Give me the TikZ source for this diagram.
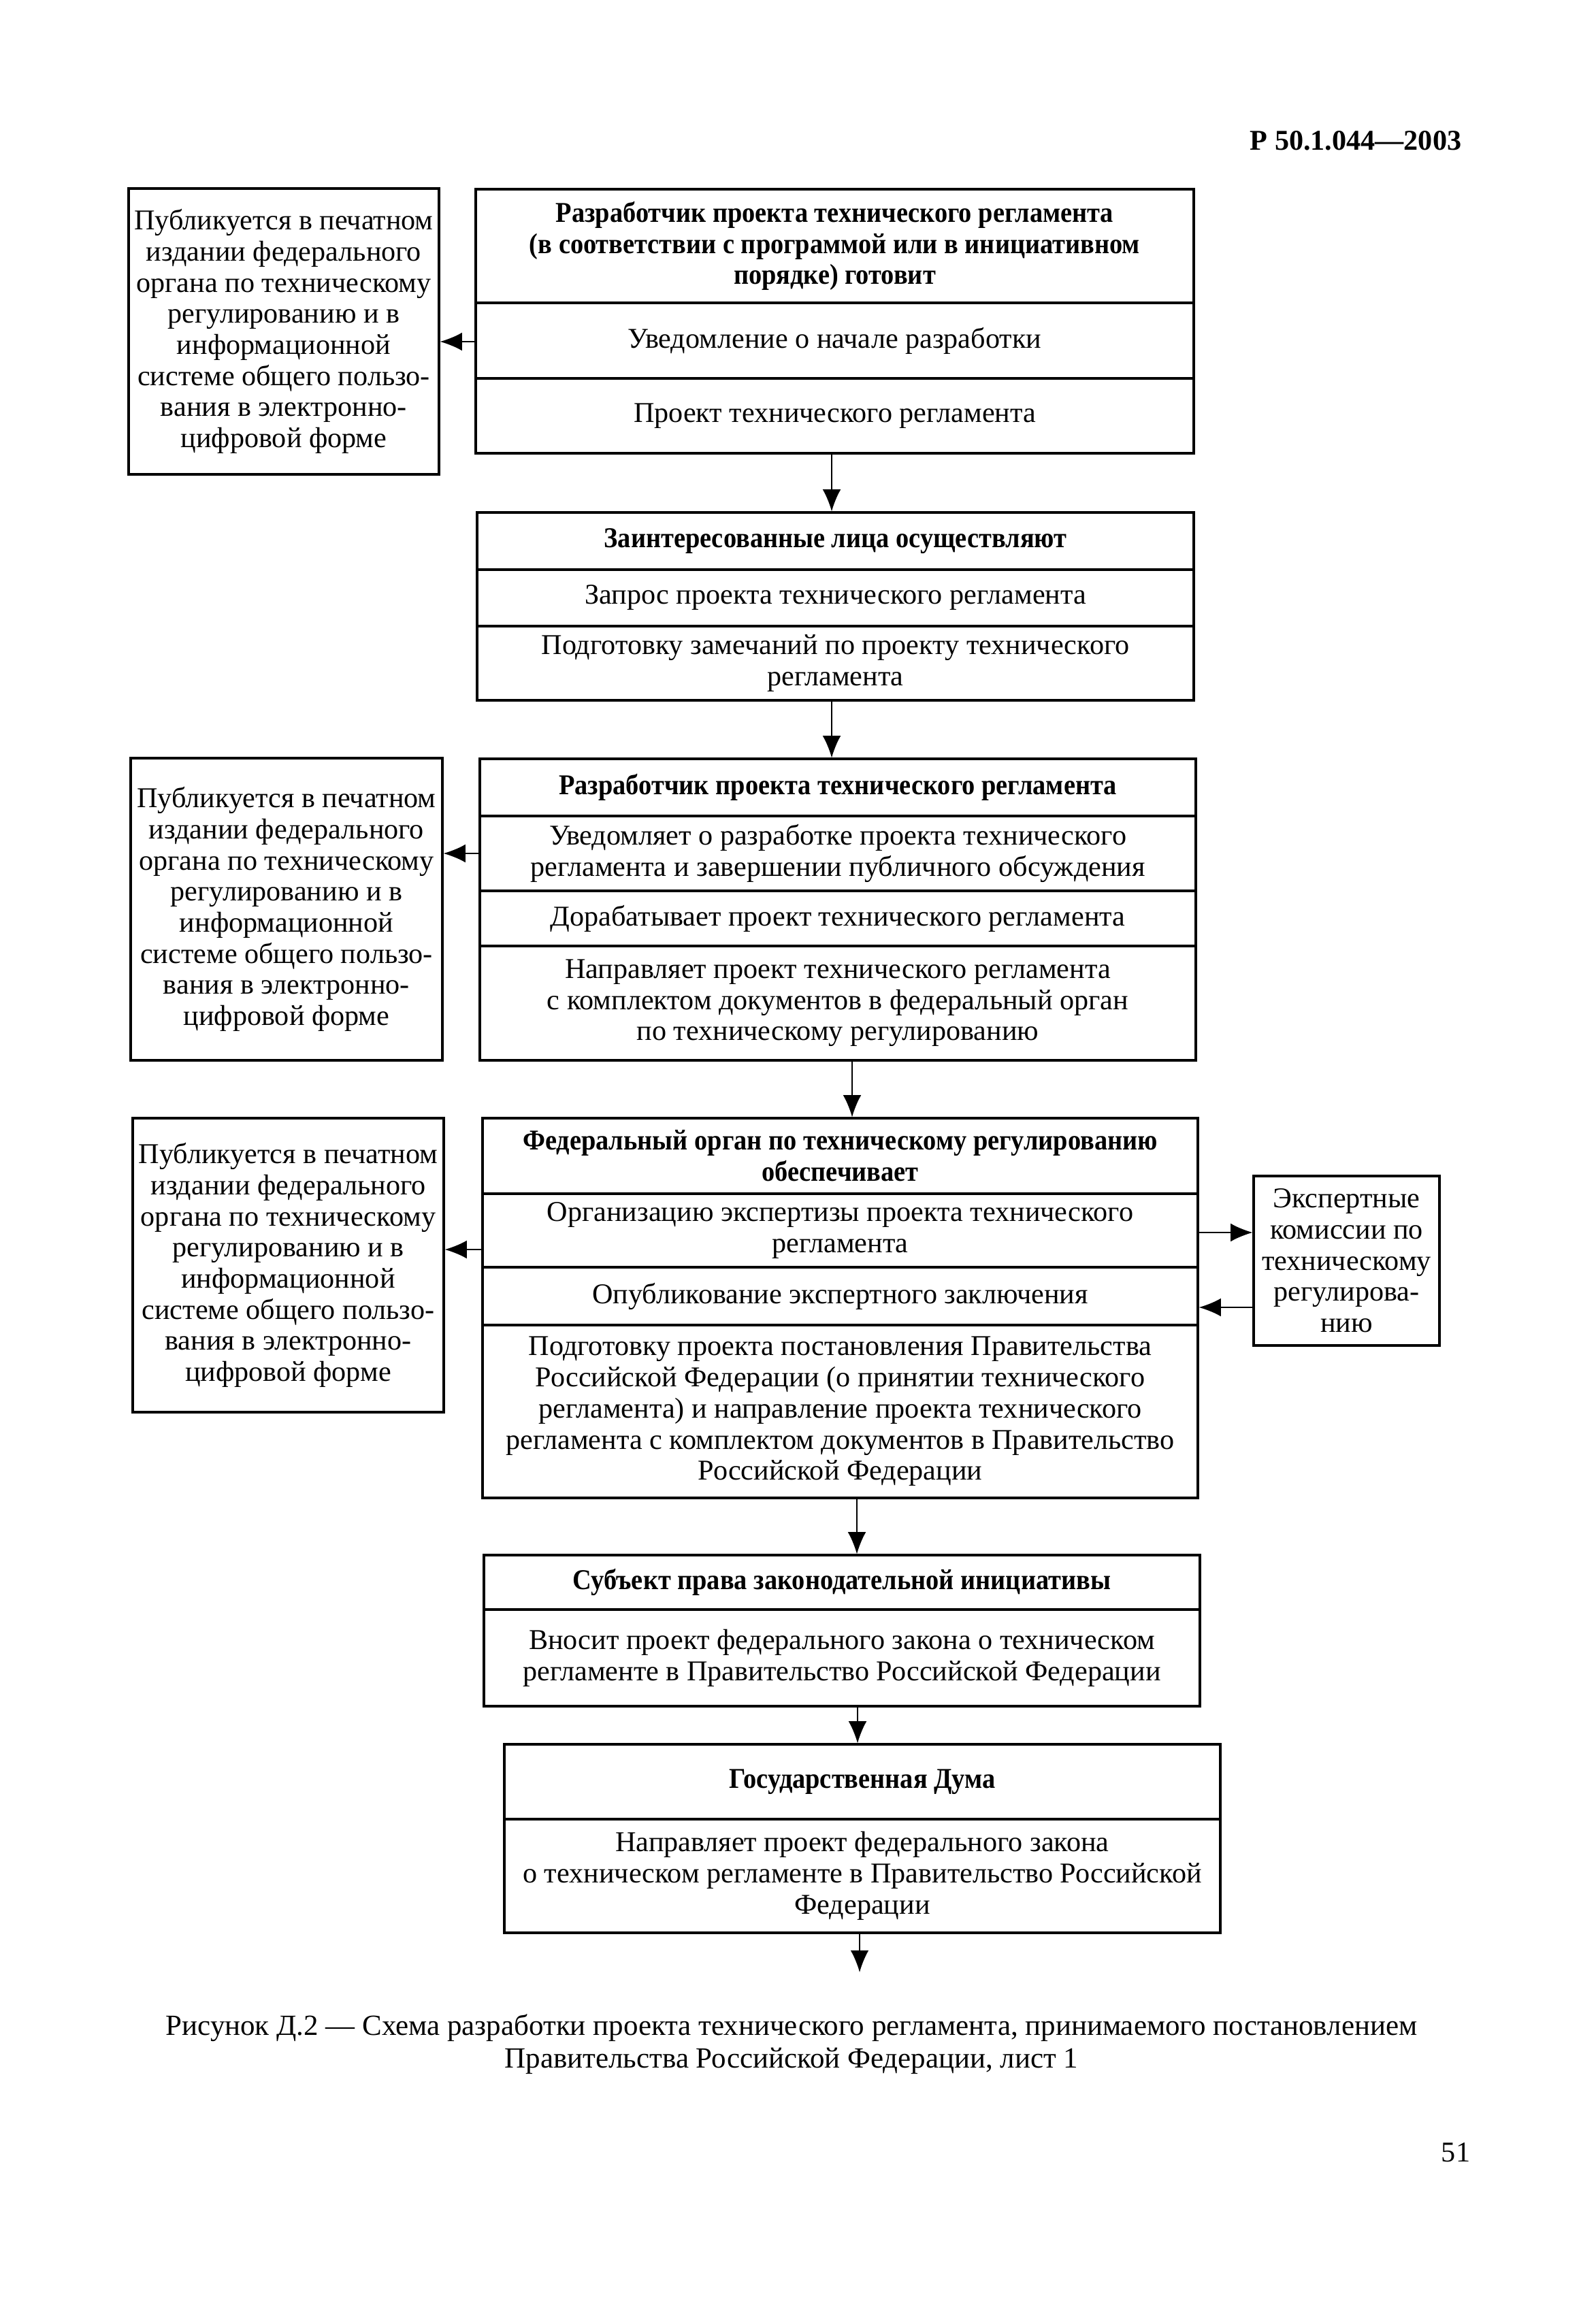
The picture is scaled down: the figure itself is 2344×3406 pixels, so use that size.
\documentclass[tikz,border=0pt]{standalone}
\usepackage{fontspec}
\setmainfont{Liberation Serif}
\newfontfamily\bcond{Liberation Serif}[FakeStretch=0.91]
\usetikzlibrary{arrows.meta}
\newcommand\fs{\fontsize{10.8}{11.7}\selectfont}
\newcommand\cellbox[7][]{%
  \pgfmathsetlengthmacro\cw{(#5-#3)*0.09mm}%
  \pgfmathsetlengthmacro\ch{(#6-#4)*0.09mm}%
  \node[cell, #1, minimum width=\cw, minimum height=\ch] (#2) at ({(#3+#5)/2},{(#4+#6)/2}) {#7};%
}
\tikzset{
  cell/.style={draw, line width=0.8pt, inner sep=0pt, align=center, font=\fs},
  ttl/.style={font=\fs\bcond\bfseries},
  arr/.style={-{Latex[length=2.9mm,width=2.4mm]}, line width=0.5pt},
}
\begin{document}
\begin{tikzpicture}[x=0.09mm, y=-0.09mm]
\useasboundingbox (0,0) rectangle (2344,3406);
\fill[white] (0,0) rectangle (2344,3406);

% header
\node[anchor=east, inner sep=0pt, font=\fs\bfseries] (hdr) at (2148,207) {Р 50.1.044—2003};

% block 1
\cellbox[ttl]{bAt}{699}{278}{1754}{445}{Разработчик проекта технического регламента\\(в соответствии с программой или в инициативном\\порядке) готовит}
\cellbox{bAa}{699}{445}{1754}{556}{Уведомление о начале разработки}
\cellbox{bAb}{699}{556}{1754}{666}{Проект технического регламента}
\cellbox{lA}{189}{277}{645}{697}{Публикуется в печатном\\издании федерального\\органа по техническому\\регулированию и в\\информационной\\системе общего пользо-\\вания в электронно-\\цифровой форме}

% block 2
\cellbox[ttl]{bBt}{701}{753}{1754}{837}{Заинтересованные лица осуществляют}
\cellbox{bBa}{701}{837}{1754}{920}{Запрос проекта технического регламента}
\cellbox{bBb}{701}{920}{1754}{1029}{Подготовку замечаний по проекту технического\\регламента}

% block 3
\cellbox[ttl]{bCt}{705}{1115}{1757}{1199}{Разработчик проекта технического регламента}
\cellbox{bCa}{705}{1199}{1757}{1309}{Уведомляет о разработке проекта технического\\регламента и завершении публичного обсуждения}
\cellbox{bCb}{705}{1309}{1757}{1390}{Дорабатывает проект технического регламента}
\cellbox{bCc}{705}{1390}{1757}{1558}{Направляет проект технического регламента\\с комплектом документов в федеральный орган\\по техническому регулированию}
\cellbox{lB}{192}{1114}{650}{1558}{Публикуется в печатном\\издании федерального\\органа по техническому\\регулированию и в\\информационной\\системе общего пользо-\\вания в электронно-\\цифровой форме}

% block 4
\cellbox[ttl]{bDt}{709}{1643}{1760}{1754}{Федеральный орган по техническому регулированию\\обеспечивает}
\cellbox{bDa}{709}{1754}{1760}{1862}{Организацию экспертизы проекта технического\\регламента}
\cellbox{bDb}{709}{1862}{1760}{1947}{Опубликование экспертного заключения}
\cellbox{bDc}{709}{1947}{1760}{2201}{Подготовку проекта постановления Правительства\\Российской Федерации (о принятии технического\\регламента) и направление проекта технического\\регламента с комплектом документов в Правительство\\Российской Федерации}
\cellbox{lC}{195}{1643}{652}{2075}{Публикуется в печатном\\издании федерального\\органа по техническому\\регулированию и в\\информационной\\системе общего пользо-\\вания в электронно-\\цифровой форме}
\cellbox{rD}{1842}{1728}{2115}{1977}{Экспертные\\комиссии по\\техническому\\регулирова-\\нию}

% block 5
\cellbox[ttl]{bEt}{711}{2285}{1763}{2365}{Субъект права законодательной инициативы}
\cellbox{bEa}{711}{2365}{1763}{2507}{Вносит проект федерального закона о техническом\\регламенте в Правительство Российской Федерации}

% block 6
\cellbox[ttl]{bFt}{741}{2563}{1793}{2673}{Государственная Дума}
\cellbox{bFa}{741}{2673}{1793}{2840}{Направляет проект федерального закона\\о техническом регламенте в Правительство Российской\\Федерации}

\coordinate (endF) at (1263,2898);

% vertical connectors
\draw[arr] (bAb.south -| 1222,0) -- (bBt.north -| 1222,0);
\draw[arr] (bBb.south -| 1222,0) -- (bCt.north -| 1222,0);
\draw[arr] (bCc.south -| 1252,0) -- (bDt.north -| 1252,0);
\draw[arr] (bDc.south -| 1259,0) -- (bEt.north -| 1259,0);
\draw[arr] (bEa.south -| 1260,0) -- (bFt.north -| 1260,0);
\draw[arr] (bFa.south -| endF) -- (endF);

% side connectors
\draw[arr] (bAa.west |- 0,502) -- (lA.east |- 0,502);
\draw[arr] (bCa.west |- 0,1254) -- (lB.east |- 0,1254);
\draw[arr] (bDa.west |- 0,1836) -- (lC.east |- 0,1836);
\draw[arr] (bDa.east |- 0,1811) -- (rD.west |- 0,1811);
\draw[arr] (rD.west |- 0,1921) -- (bDb.east |- 0,1921);

% caption and page number
\node[align=center, inner sep=0pt, font=\fontsize{11}{12.3}\selectfont] (cap) at (1163,3004) {Рисунок Д.2 — Схема разработки проекта технического регламента, принимаемого постановлением\\Правительства Российской Федерации, лист 1};
\node[inner sep=0pt, font=\fs] (pg) at (2139,3163) {51};
\end{tikzpicture}
\end{document}
